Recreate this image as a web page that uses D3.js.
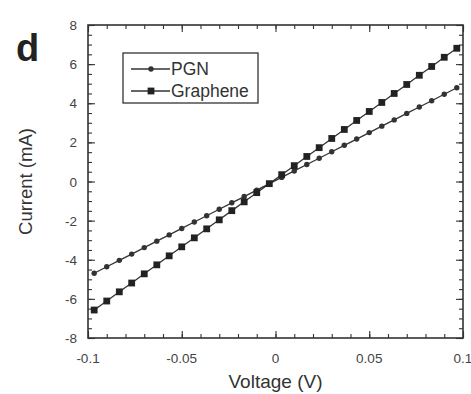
<!DOCTYPE html>
<html lang="en">
<head>
<meta charset="UTF-8">
<title>IV curve</title>
<script src="https://d3js.org/d3.v7.min.js"></script>
<style>
  body { margin: 0; background: #fff; }
  svg { display: block; font-family: "Liberation Sans", Arial, sans-serif; }
</style>
</head>
<body>
<svg id="chart" width="471" height="394"></svg>
<script>
// measured sweep (V)
var voltage = [-0.0967, -0.09, -0.0833, -0.0767, -0.07, -0.0633, -0.0567, -0.05, -0.0433, -0.0367,
  -0.03, -0.0233, -0.0167, -0.01, -0.0033, 0.0033, 0.01, 0.0167, 0.0233, 0.03,
  0.0367, 0.0433, 0.05, 0.0567, 0.0633, 0.07, 0.0767, 0.0833, 0.09, 0.0967];
// current (mA)
var pgn = [-4.69, -4.36, -4.03, -3.71, -3.38, -3.05, -2.73, -2.40, -2.07, -1.75,
  -1.42, -1.09, -0.77, -0.44, -0.11, 0.21, 0.54, 0.87, 1.19, 1.52,
  1.85, 2.17, 2.50, 2.83, 3.15, 3.48, 3.81, 4.13, 4.46, 4.79];
var graphene = [-6.57, -6.11, -5.64, -5.19, -4.72, -4.26, -3.80, -3.34, -2.88, -2.42,
  -1.96, -1.49, -1.04, -0.57, -0.11, 0.35, 0.81, 1.28, 1.73, 2.20,
  2.66, 3.12, 3.58, 4.04, 4.50, 4.96, 5.43, 5.88, 6.35, 6.81];
var xTicks = [-0.1, -0.05, 0, 0.05, 0.1];
var xTickLabels = ["-0.1", "-0.05", "0", "0.05", "0.1"];
var yTicks = [-8, -6, -4, -2, 0, 2, 4, 6, 8];
var seriesNames = ["PGN", "Graphene"];

var margin = { top: 25, right: 8, bottom: 56, left: 88 },
    width = 471 - margin.left - margin.right,
    height = 394 - margin.top - margin.bottom;

var svg = d3.select("#chart");
var g = svg.append("g").attr("transform", "translate(" + margin.left + "," + margin.top + ")");

var x = d3.scaleLinear().domain([-0.1, 0.1]).range([0, width]);
var y = d3.scaleLinear().domain([-8, 8]).range([height, 0]);

var ink = "#333";
var minorX = d3.range(-10, 11).map(function (i) { return i / 100; });
var minorY = d3.range(-16, 17).map(function (i) { return i / 2; });

// inward ticks on all four sides
function ticks(axisFn, scale, values, len, tr) {
  var a = g.append("g").attr("transform", tr)
    .call(axisFn(scale).tickValues(values).tickSize(-len).tickFormat(""));
  a.select(".domain").remove();
  a.selectAll("line").attr("stroke", ink).attr("stroke-width", 1.1);
  return a;
}
ticks(d3.axisBottom, x, minorX, 4, "translate(0," + height + ")");
ticks(d3.axisBottom, x, xTicks, 7, "translate(0," + height + ")");
ticks(d3.axisTop, x, minorX, 4, "translate(0,0)");
ticks(d3.axisTop, x, xTicks, 7, "translate(0,0)");
ticks(d3.axisLeft, y, minorY, 4, "translate(0,0)");
ticks(d3.axisLeft, y, yTicks, 7, "translate(0,0)");
ticks(d3.axisRight, y, minorY, 4, "translate(" + width + ",0)");
ticks(d3.axisRight, y, yTicks, 7, "translate(" + width + ",0)");

g.append("rect").attr("width", width).attr("height", height)
  .attr("fill", "none").attr("stroke", ink).attr("stroke-width", 1.6);

// tick labels
g.selectAll("text.xl").data(xTicks).join("text")
  .attr("class", "xl")
  .attr("x", function (d) { return x(d); }).attr("y", height + 25)
  .attr("text-anchor", "middle").attr("font-size", 13.5).attr("fill", "#444")
  .text(function (d, i) { return xTickLabels[i]; });
g.selectAll("text.yl").data(yTicks).join("text")
  .attr("class", "yl")
  .attr("x", -11).attr("y", function (d) { return y(d) + 5; })
  .attr("text-anchor", "end").attr("font-size", 13.5).attr("fill", "#444")
  .text(function (d) { return d; });

// axis titles
svg.append("text").attr("x", margin.left + width / 2).attr("y", 388)
  .attr("text-anchor", "middle").attr("font-size", 19).attr("fill", "#333")
  .text("Voltage (V)");
svg.append("text").attr("transform", "translate(32," + (margin.top + height / 2) + ") rotate(-90)")
  .attr("text-anchor", "middle").attr("font-size", 18.5).attr("fill", "#333")
  .text("Current (mA)");
svg.append("text").attr("x", 16).attr("y", 61)
  .attr("font-size", 38).attr("font-weight", "bold").attr("fill", "#222")
  .text("d");

// lines + markers
var line = d3.line().x(function (d) { return x(d[0]); }).y(function (d) { return y(d[1]); });
var pgnPts = d3.zip(voltage, pgn), grPts = d3.zip(voltage, graphene);

[pgnPts, grPts].forEach(function (pts) {
  g.append("path").datum(pts).attr("d", line)
    .attr("fill", "none").attr("stroke", ink).attr("stroke-width", 1.3);
});
g.selectAll("circle.pgn").data(pgnPts).join("circle")
  .attr("class", "pgn")
  .attr("cx", function (d) { return x(d[0]); }).attr("cy", function (d) { return y(d[1]); })
  .attr("r", 2.7).attr("fill", ink);
g.selectAll("rect.gr").data(grPts).join("rect")
  .attr("class", "gr")
  .attr("x", function (d) { return x(d[0]) - 3.4; }).attr("y", function (d) { return y(d[1]) - 3.4; })
  .attr("width", 6.8).attr("height", 6.8).attr("fill", "#222");

// legend
var leg = svg.append("g").attr("transform", "translate(123,53)");
leg.append("rect").attr("width", 135).attr("height", 50)
  .attr("fill", "#fff").attr("stroke", ink).attr("stroke-width", 1.3);
seriesNames.forEach(function (name, i) {
  var ly = 16 + i * 22;
  leg.append("line").attr("x1", 8).attr("x2", 47).attr("y1", ly).attr("y2", ly)
    .attr("stroke", ink).attr("stroke-width", 1.3);
  if (i === 0) {
    leg.append("circle").attr("cx", 28).attr("cy", ly).attr("r", 2.7).attr("fill", ink);
  } else {
    leg.append("rect").attr("x", 24.6).attr("y", ly - 3.4).attr("width", 6.8).attr("height", 6.8).attr("fill", "#222");
  }
  leg.append("text").attr("x", 48).attr("y", ly + 6)
    .attr("font-size", 17.5).attr("fill", "#333").text(name);
});
</script>
</body>
</html>
